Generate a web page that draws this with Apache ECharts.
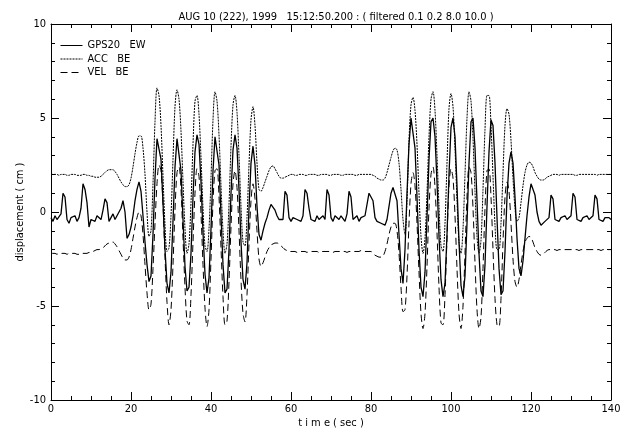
<!DOCTYPE html>
<html>
<head>
<meta charset="utf-8">
<script src="https://cdn.jsdelivr.net/npm/echarts@6/dist/echarts.min.js"></script>
<style>
  html, body { margin: 0; padding: 0; background: #fff; }
  #main { width: 624px; height: 432px; }
</style>
</head>
<body>
<div id="main"></div>
<script>
// samples every 0.5 s from t = 0 to t = 140 (281 values per trace)
var t0 = 0;
var dt = 0.5;

// GPS20 EW displacement (cm)
var gpsEW = [
  -0.3, -0.5, -0.2, -0.4, -0.3, -0.1, 1.0, 0.8, -0.4, -0.6,   // 0
  -0.3, -0.4, -0.2, -0.5, -0.3, 0.2, 1.5, 1.2, 0.5, -0.8,     // 5
  -0.4, -0.3, -0.5, -0.2, -0.3, -0.4, 0.1, 0.7, 0.5, -0.5,    // 10
  -0.3, -0.1, -0.4, -0.2, 0.0, 0.2, 0.6, 0.0, -1.4, -1.2,     // 15
  -0.8, -0.2, 0.6, 1.2, 1.6, 1.1, -0.2, -1.6, -2.8, -3.7,     // 20
  -3.4, -1.2, 1.8, 3.9, 4.0, 2.8, 0.5, -2.0, -3.8, -4.3,      // 25
  -3.2, -0.5, 2.4, 3.9, 3.9, 2.2, -0.4, -2.9, -4.2, -4.0,     // 30
  -2.2, 0.8, 3.2, 4.1, 3.6, 1.6, -1.1, -3.3, -4.3, -3.5,      // 35
  -0.9, 2.2, 4.0, 4.0, 2.5, -0.2, -2.8, -4.3, -4.1, -2.0,     // 40
  1.0, 3.3, 4.1, 3.4, 1.2, -1.6, -3.6, -4.1, -2.7, 0.2,       // 45
  2.6, 3.5, 2.5, 0.3, -1.2, -1.5, -1.0, -0.6, -0.3, 0.1,      // 50
  0.4, 0.4, 0.1, -0.2, -0.4, -0.3, -0.4, 1.1, 0.9, -0.3,      // 55
  -0.5, -0.3, -0.2, -0.4, -0.3, -0.5, -0.2, 1.2, 1.0, 0.2,    // 60
  -0.4, -0.3, -0.5, -0.2, -0.4, -0.3, -0.2, -0.4, 1.2, 0.9,   // 65
  -0.3, -0.5, -0.2, -0.3, -0.4, -0.2, -0.3, -0.5, -0.1, 1.1,  // 70
  0.8, -0.4, -0.3, -0.2, -0.5, -0.3, -0.4, -0.2, -0.1, 1.0,   // 75
  0.9, 0.6, -0.3, -0.5, -0.4, -0.6, -0.5, -0.7, -0.4, 0.3,    // 80
  1.0, 1.3, 1.4, 0.6, -1.2, -3.0, -3.8, -2.0, 1.0, 3.6,       // 85
  5.0, 4.9, 3.4, 0.8, -2.0, -4.0, -4.5, -3.2, -0.3, 2.8,      // 90
  4.8, 5.0, 4.0, 1.6, -1.3, -3.6, -4.5, -3.8, -1.2, 2.0,      // 95
  4.5, 5.0, 4.0, 1.4, -1.6, -3.9, -4.5, -3.4, -0.6, 2.6,      // 100
  4.8, 5.0, 3.4, 0.6, -2.2, -4.2, -4.5, -2.8, 0.3, 3.2,       // 105
  4.9, 4.6, 2.6, -0.3, -3.0, -4.4, -4.2, -2.1, 0.8, 2.6,      // 110
  3.2, 2.6, 0.8, -1.4, -3.0, -3.4, -2.6, -1.4, -0.2, 0.8,     // 115
  1.5, 1.5, 0.9, 0.0, -0.5, -0.7, -0.6, -0.5, -0.4, -0.3,     // 120
  0.9, 0.7, -0.4, -0.3, -0.5, -0.3, -0.4, -0.2, -0.4, -0.3,   // 125
  -0.2, 1.0, 0.8, -0.4, -0.3, -0.5, -0.3, -0.4, -0.2, -0.4,   // 130
  -0.3, -0.2, 0.9, 0.7, -0.4, -0.3, -0.5, -0.3, -0.4, -0.3,   // 135
  -0.4                                                        // 140
];

// ACC BE (plotted with +2 cm offset)
var accBE = [
  2.0, 2.0, 2.0, 2.0, 1.95, 2.0, 2.0, 2.0, 1.95, 1.95,        // 0
  2.0, 2.0, 2.0, 1.95, 1.95, 1.95, 2.0, 2.0, 1.95, 1.95,      // 5
  1.9, 1.9, 1.85, 1.85, 1.85, 1.9, 2.0, 2.1, 2.2, 2.25,       // 10
  2.25, 2.25, 2.15, 2.0, 1.8, 1.6, 1.45, 1.35, 1.35, 1.45,    // 15
  1.8, 2.4, 3.1, 3.7, 4.05, 4.05, 3.4, 2.0, 0.0, -1.3,        // 20
  -1.0, 1.5, 4.8, 6.6, 6.2, 4.6, 1.9, -0.7, -2.1, -1.9,       // 25
  -0.2, 2.8, 5.6, 6.5, 6.0, 4.3, 1.6, -0.9, -2.2, -1.7,       // 30
  0.5, 3.6, 5.9, 6.2, 5.2, 2.9, 0.2, -1.8, -2.1, -0.9,        // 35
  1.8, 4.9, 6.4, 5.9, 4.1, 1.4, -1.0, -2.2, -1.7, 0.4,        // 40
  3.5, 5.7, 6.2, 5.3, 3.0, 0.3, -1.6, -1.8, -0.3, 2.5,        // 45
  4.9, 5.6, 4.6, 2.6, 1.2, 1.1, 1.3, 1.6, 1.9, 2.2,           // 50
  2.4, 2.45, 2.3, 2.1, 1.9, 1.8, 1.8, 1.85, 1.9, 1.95,        // 55
  2.0, 2.0, 1.95, 1.95, 2.0, 2.0, 2.0, 1.95, 1.95, 2.0,       // 60
  2.0, 2.0, 2.0, 1.95, 1.95, 2.0, 2.0, 2.0, 2.0, 1.95,        // 65
  1.95, 2.0, 2.0, 2.0, 2.0, 1.95, 1.95, 2.0, 2.0, 2.0,        // 70
  2.0, 2.0, 1.95, 1.95, 2.0, 2.0, 2.0, 2.0, 2.0, 2.0,         // 75
  2.0, 1.95, 1.9, 1.8, 1.75, 1.7, 1.7, 1.8, 2.1, 2.5,         // 80
  2.9, 3.25, 3.4, 3.3, 2.6, 1.2, -0.4, -1.2, 0.6, 3.8,        // 85
  5.7, 6.1, 5.4, 3.6, 1.0, -1.3, -2.2, -1.4, 1.0, 4.0,        // 90
  6.0, 6.4, 5.4, 3.0, 0.3, -1.8, -2.1, -0.6, 2.6, 5.5,        // 95
  6.3, 5.6, 3.4, 0.6, -1.6, -2.2, -0.9, 2.0, 5.0, 6.4,        // 100
  5.9, 3.9, 1.1, -1.3, -2.2, -1.5, 1.2, 4.4, 6.2, 6.2,        // 105
  4.6, 1.9, -0.7, -2.0, -2.0, -0.6, 2.1, 4.6, 5.5, 5.2,       // 110
  3.8, 1.8, 0.2, -0.5, -0.3, 0.5, 1.4, 2.1, 2.5, 2.65,        // 115
  2.6, 2.4, 2.1, 1.9, 1.75, 1.7, 1.7, 1.75, 1.85, 1.9,        // 120
  1.95, 2.0, 2.0, 2.0, 1.95, 2.0, 2.0, 2.0, 2.0, 2.0,         // 125
  2.0, 2.0, 1.95, 1.95, 2.0, 2.0, 2.0, 2.0, 2.0, 2.0,         // 130
  2.0, 2.0, 2.0, 1.95, 2.0, 2.0, 2.0, 2.0, 2.0, 2.0,          // 135
  2.0                                                         // 140
];

// VEL BE (plotted with -2 cm offset)
var velBE = [
  -2.2, -2.2, -2.2, -2.25, -2.2, -2.2, -2.2, -2.2, -2.25, -2.2,     // 0
  -2.2, -2.2, -2.2, -2.25, -2.25, -2.2, -2.2, -2.2, -2.2, -2.15,    // 5
  -2.15, -2.1, -2.05, -2.0, -2.0, -1.95, -1.9, -1.8, -1.7, -1.65,   // 10
  -1.6, -1.6, -1.7, -1.85, -2.05, -2.25, -2.45, -2.55, -2.55, -2.4, // 15
  -2.0, -1.4, -0.8, -0.3, 0.0, -0.2, -1.2, -2.8, -4.3, -5.2,        // 20
  -4.9, -3.0, -0.6, 1.5, 2.5, 2.2, 0.4, -2.4, -4.8, -6.0,           // 25
  -5.2, -2.8, 0.1, 2.1, 2.4, 1.2, -1.4, -4.0, -5.8, -6.0,           // 30
  -4.4, -1.6, 1.0, 2.3, 1.9, -0.1, -2.8, -5.1, -6.1, -5.2,          // 35
  -2.5, 0.5, 2.2, 2.3, 0.8, -1.9, -4.5, -6.0, -5.8, -3.7,           // 40
  -0.8, 1.5, 2.2, 1.3, -1.0, -3.6, -5.4, -5.85, -4.4, -1.7,         // 45
  0.6, 1.5, 0.7, -1.0, -2.5, -2.9, -2.7, -2.4, -2.1, -1.9,          // 50
  -1.75, -1.7, -1.65, -1.65, -1.7, -1.8, -1.9, -2.0, -2.05, -2.1,   // 55
  -2.1, -2.1, -2.1, -2.15, -2.1, -2.1, -2.1, -2.1, -2.15, -2.1,     // 60
  -2.1, -2.1, -2.1, -2.1, -2.15, -2.1, -2.1, -2.1, -2.1, -2.1,      // 65
  -2.1, -2.15, -2.1, -2.1, -2.1, -2.1, -2.1, -2.1, -2.15, -2.1,     // 70
  -2.1, -2.1, -2.1, -2.1, -2.1, -2.05, -2.05, -2.1, -2.1, -2.1,     // 75
  -2.1, -2.2, -2.3, -2.35, -2.4, -2.4, -2.35, -2.1, -1.7, -1.2,     // 80
  -0.8, -0.6, -0.6, -1.0, -2.2, -4.0, -5.3, -5.2, -3.4, -0.6,       // 85
  1.5, 2.1, 1.4, -0.6, -3.2, -5.4, -6.2, -5.4, -2.9, 0.2,           // 90
  2.0, 2.4, 1.3, -1.1, -4.0, -5.9, -6.0, -4.4, -1.4, 1.4,           // 95
  2.3, 1.8, -0.2, -3.0, -5.4, -6.2, -5.0, -2.2, 0.8, 2.4,           // 100
  2.1, 0.2, -2.7, -5.2, -6.2, -5.6, -3.0, 0.2, 2.2, 2.3,            // 105
  0.8, -2.0, -4.6, -6.0, -6.1, -4.6, -1.6, 0.8, 1.6, 1.1,           // 110
  -0.6, -2.5, -3.7, -4.0, -3.6, -2.8, -2.1, -1.6, -1.4, -1.3,       // 115
  -1.35, -1.6, -1.9, -2.1, -2.25, -2.3, -2.25, -2.15, -2.05, -2.0,  // 120
  -2.0, -2.0, -2.0, -2.05, -2.0, -2.0, -2.0, -2.0, -2.0, -2.0,      // 125
  -2.0, -2.0, -2.0, -2.0, -2.05, -2.0, -2.0, -2.0, -2.0, -2.0,      // 130
  -2.0, -2.0, -2.0, -2.0, -2.0, -2.05, -2.0, -2.0, -2.0, -2.0,      // 135
  -2.0                                                              // 140
];

var seriesNames = ['GPS20   EW', 'ACC   BE', 'VEL   BE'];
var titleText = 'AUG 10 (222), 1999   15:12:50.200 : ( filtered 0.1 0.2 8.0 10.0 )';

function pairs(vals) {
    var out = [];
    for (var i = 0; i < vals.length; i++) {
        out.push([t0 + i * dt, vals[i]]);
    }
    return out;
}

var font = "'DejaVu Sans Condensed', 'Liberation Sans Narrow', sans-serif";
var ink = '#000';

var myChart = echarts.init(document.getElementById('main'), null, {renderer: 'canvas'});

var xBase = {
    type: 'value', min: 0, max: 140, interval: 20,
    axisLine: {show: true, onZero: false, lineStyle: {color: ink, width: 1}},
    axisTick: {show: true, inside: true, length: 8, lineStyle: {color: ink}},
    minorTick: {show: true, splitNumber: 4, length: 4, lineStyle: {color: ink}},
    splitLine: {show: false}
};
var yBase = {
    type: 'value', min: -10, max: 10, interval: 5,
    axisLine: {show: true, onZero: false, lineStyle: {color: ink, width: 1}},
    axisTick: {show: true, inside: true, length: 8, lineStyle: {color: ink}},
    minorTick: {show: true, splitNumber: 5, length: 4, lineStyle: {color: ink}},
    splitLine: {show: false}
};

myChart.setOption({
    animation: false,
    backgroundColor: '#fff',
    title: {
        text: titleText,
        left: 331,
        top: 7,
        textAlign: 'center',
        textStyle: {fontFamily: font, fontSize: 11, fontWeight: 'normal', color: ink}
    },
    legend: {
        orient: 'vertical',
        left: 60,
        top: 40,
        itemWidth: 22,
        itemHeight: 10,
        itemGap: 2.5,
        padding: 0,
        itemStyle: {opacity: 0},
        lineStyle: {width: 1},
        data: seriesNames,
        textStyle: {fontFamily: font, fontSize: 11, color: ink}
    },
    grid: {left: 51, right: 13, top: 24, bottom: 32, outerBoundsMode: 'none'},
    xAxis: [
        echarts.util.merge({
            position: 'bottom',
            name: 't i m e ( sec )',
            nameLocation: 'middle',
            nameGap: 18,
            nameMoveOverlap: false,
            nameTextStyle: {fontFamily: font, fontSize: 11, color: ink},
            axisLabel: {show: true, margin: 4, fontFamily: font, fontSize: 11, color: ink}
        }, xBase, true),
        echarts.util.merge({
            position: 'top',
            axisLabel: {show: false}
        }, xBase, true)
    ],
    yAxis: [
        echarts.util.merge({
            position: 'left',
            name: 'displacement ( cm )',
            nameLocation: 'middle',
            nameGap: 25,
            nameMoveOverlap: false,
            nameTextStyle: {fontFamily: font, fontSize: 11, color: ink},
            axisLabel: {show: true, margin: 5, fontFamily: font, fontSize: 11, color: ink}
        }, yBase, true),
        echarts.util.merge({
            position: 'right',
            axisLabel: {show: false}
        }, yBase, true)
    ],
    series: [
        {
            name: seriesNames[0], type: 'line', showSymbol: false, symbol: 'none',
            lineStyle: {color: ink, width: 1.3, type: 'solid'},
            itemStyle: {color: ink},
            data: pairs(gpsEW)
        },
        {
            name: seriesNames[1], type: 'line', showSymbol: false, symbol: 'none', smooth: 0.3,
            lineStyle: {color: ink, width: 1, type: [2, 1]},
            itemStyle: {color: ink},
            data: pairs(accBE)
        },
        {
            name: seriesNames[2], type: 'line', showSymbol: false, symbol: 'none', smooth: 0.3,
            lineStyle: {color: ink, width: 1, type: [7, 4]},
            itemStyle: {color: ink},
            data: pairs(velBE)
        }
    ]
});
</script>
</body>
</html>
